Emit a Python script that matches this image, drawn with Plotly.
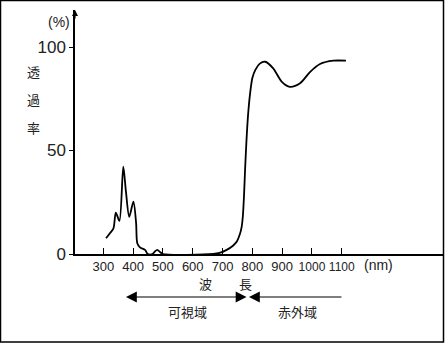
import plotly.graph_objects as go

# Data
wavelength = [309, 322, 334, 342, 354, 367, 376, 387, 401, 410, 414, 423, 440, 449,
              465, 473, 481, 490, 500, 669, 690, 714, 735, 748, 758, 764, 768, 772,
              776, 780, 785, 792, 800, 810, 825, 843, 870, 899, 926, 960, 994, 1027,
              1072, 1114]
transmittance = [7.6, 10, 12.4, 20, 16, 42.2, 30, 18, 25.3, 15, 5.2, 3.2, 2, 0,
                 0, 1.2, 2, 1, 0, 0, 0.5, 2, 4, 6, 9.5, 13, 18, 28,
                 42, 54, 66, 77, 85, 89, 92, 92.9, 89.7, 83.2, 80.8, 82.5, 88, 91.8,
                 93.4, 93.4]
x_ticks = [300, 400, 500, 600, 700, 800, 900, 1000, 1100]
x_ticktext = ["300", "400", "500", "600", "700", "800", "900",
              "<span style='font-size:12px'>1000</span>",
              "<span style='font-size:12px'>1100</span>"]
y_ticks = [0, 50, 100]
y_ticktext = ["0", "50", "100"]

W, H = 445, 343
ML, MR, MT, MB = 75, 1, 10, 89
PW, PH = W - ML - MR, H - MT - MB


def px(x):
    return (x - ML) / PW


def py(y):
    return (H - MB - y) / PH


FONT = "Liberation Sans, Arial, sans-serif"
CJK = "Noto Sans CJK JP, sans-serif"
TXT = "#222222"

fig = go.Figure()
fig.add_trace(go.Scatter(
    x=wavelength, y=transmittance, mode="lines",
    line=dict(color="black", width=1.8, shape="spline", smoothing=0.8),
    showlegend=False, hoverinfo="skip"))

fig.update_layout(
    width=W, height=H,
    margin=dict(l=ML, r=MR, t=MT, b=MB),
    paper_bgcolor="white", plot_bgcolor="white",
    xaxis=dict(range=[205, 1443], tickvals=x_ticks, ticktext=x_ticktext,
               ticks="inside", ticklen=6, tickcolor="black", tickwidth=1,
               showline=True, linecolor="black", linewidth=1.5,
               showgrid=False, zeroline=False,
               tickfont=dict(family=FONT, size=13, color=TXT)),
    yaxis=dict(range=[0, 117.9], tickvals=y_ticks, ticktext=y_ticktext,
               ticks="outside", ticklen=4, tickcolor="black", tickwidth=1,
               showline=True, linecolor="black", linewidth=1.5,
               showgrid=False, zeroline=False,
               tickfont=dict(family=FONT, size=17, color=TXT)),
)


def label(text, x, y, font=CJK, size=13, xanchor="center"):
    return dict(xref="paper", yref="paper", x=px(x), y=py(y), xanchor=xanchor,
                yanchor="middle", showarrow=False, text=text,
                font=dict(family=font, size=size, color=TXT))


ann = []
# y-axis arrow
ann.append(dict(xref="paper", yref="paper", x=0, y=1.0, ax=0, ay=10,
                showarrow=True, arrowhead=2, arrowsize=1, arrowwidth=1.2,
                arrowcolor="black", text=""))
ann.append(label("(%)", 72, 22, font=FONT, size=14, xanchor="right"))
for ch, yy in zip(["透", "過", "率"], [72, 100, 127]):
    ann.append(label(ch, 33, yy, size=13))
ann.append(label("(nm)", 378, 265, font=FONT, size=14))
ann.append(label("波", 205, 283))
ann.append(label("長", 245, 283))
# region arrows
ann.append(dict(xref="paper", yref="paper",
                x=px(126), y=py(297), ax=248 - 126, ay=0, text="",
                showarrow=True, arrowhead=2, startarrowhead=2, arrowside="end+start",
                arrowsize=1.8, startarrowsize=1.8, arrowwidth=1.2, arrowcolor="black"))
ann.append(dict(xref="paper", yref="paper",
                x=px(249), y=py(297), ax=343 - 249, ay=0, text="",
                showarrow=True, arrowhead=2, arrowsize=1.8, arrowwidth=1.2,
                arrowcolor="black"))
ann.append(label("可視域", 187, 311))
ann.append(label("赤外域", 297, 311))
fig.update_layout(annotations=ann)

# outer frame
fig.add_shape(type="rect", xref="paper", yref="paper",
              x0=px(0.5), x1=px(443.5), y0=py(342), y1=py(0.5),
              line=dict(color="black", width=1.5), fillcolor="rgba(0,0,0,0)")

fig.write_html("out.html")
